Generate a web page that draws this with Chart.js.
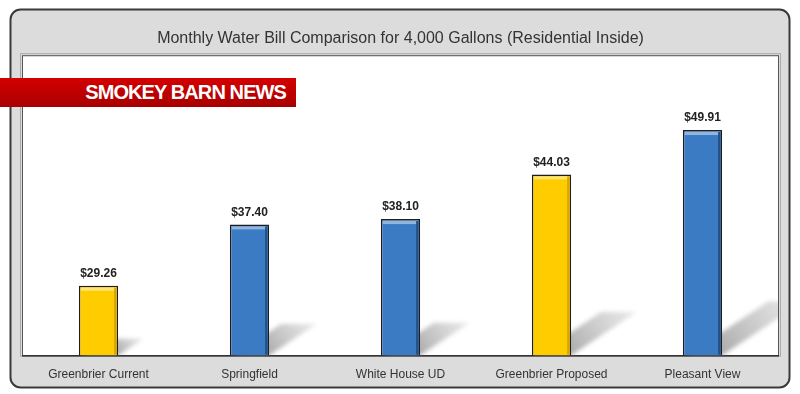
<!DOCTYPE html>
<html>
<head>
<meta charset="utf-8">
<script src="https://cdn.jsdelivr.net/npm/chart.js@4.4.0/dist/chart.umd.min.js"></script>
<style>
  html, body { margin: 0; padding: 0; background: #fff; }
  #wrap { position: relative; width: 800px; height: 394px; }
  #banner {
    position: absolute; left: 0; top: 78px; width: 296px; height: 29px;
    background: linear-gradient(#d40000, #a80000);
    color: #fff; font: bold 20px "Liberation Sans", Arial, sans-serif;
    letter-spacing: -0.9px; line-height: 29px; text-align: right;
    box-sizing: border-box; padding-right: 10px;
  }
</style>
</head>
<body>
<div id="wrap">
  <canvas id="myChart" width="800" height="394"></canvas>
  <div id="banner">SMOKEY BARN NEWS</div>
</div>
<script>
const categories = ['Greenbrier Current', 'Springfield', 'White House UD', 'Greenbrier Proposed', 'Pleasant View'];
const bills = [29.26, 37.40, 38.10, 44.03, 49.91];
const yMin = 20;
const yMax = 59.7;
const chartTitle = 'Monthly Water Bill Comparison for 4,000 Gallons (Residential Inside)';

// greenbrier bars are yellow, the others blue
const barColors = categories.map(c => c.startsWith('Greenbrier') ? '#ffcc00' : '#3a7bc4');
const edgeColors = categories.map(c => c.startsWith('Greenbrier') ? '#d9a400' : '#21518a');

const ctx = document.getElementById('myChart');

// frame + white panel behind the plot
const framePlugin = {
    id: 'frame',
    beforeDraw(chart) {
        const c = chart.ctx;
        const a = chart.chartArea;
        c.save();
        c.fillStyle = '#fff';
        c.fillRect(0, 0, chart.width, chart.height);
        c.beginPath();
        c.roundRect(10.5, 9.5, 779, 378, 10);
        c.fillStyle = '#dcdcdc';
        c.fill();
        c.lineWidth = 2;
        c.strokeStyle = '#3a3a3a';
        c.stroke();
        c.fillStyle = '#fff';
        c.fillRect(a.left, a.top, a.right - a.left, a.bottom - a.top);
        c.lineWidth = 1;
        c.strokeStyle = '#555';
        c.strokeRect(a.left - 0.5, a.top - 0.5, a.right - a.left + 1, a.bottom - a.top + 1);
        c.strokeStyle = '#aaa';
        c.strokeRect(a.left - 2.5, a.top - 2.5, a.right - a.left + 5, a.bottom - a.top + 3);
        c.restore();
    },
    beforeDatasetsDraw(chart) {
        // soft cast shadows behind each bar
        const c = chart.ctx;
        const a = chart.chartArea;
        const bars = chart.getDatasetMeta(0).data;
        c.save();
        c.beginPath();
        c.rect(a.left, a.top, a.right - a.left, a.bottom - a.top);
        c.clip();
        c.filter = 'blur(2px)';
        bars.forEach(bar => {
            const bottom = a.bottom;
            const h = bottom - bar.y;
            const dx = h * 0.36, dy = h * 0.24;
            const left = bar.x - bar.width / 2, right = bar.x + bar.width / 2;
            const g = c.createLinearGradient(right, bottom, right + dx, bottom - dy);
            g.addColorStop(0, 'rgba(150,150,150,0.8)');
            g.addColorStop(1, 'rgba(200,200,200,0.4)');
            c.fillStyle = g;
            c.beginPath();
            c.moveTo(left + 4, bottom);
            c.lineTo(right, bottom);
            c.lineTo(right + dx, bottom - dy);
            c.lineTo(left + dx + 4, bottom - dy);
            c.closePath();
            c.fill();
        });
        c.restore();
    },
    afterDatasetsDraw(chart) {
        const c = chart.ctx;
        const a = chart.chartArea;
        const bars = chart.getDatasetMeta(0).data;
        c.save();
        bars.forEach((bar, i) => {
            const left = bar.x - bar.width / 2, right = bar.x + bar.width / 2;
            // bevel: light top strip, darker right strip
            c.fillStyle = 'rgba(255,255,255,0.45)';
            c.fillRect(left + 2, bar.y + 2, bar.width - 4, 3);
            c.fillStyle = edgeColors[i];
            c.fillRect(right - 4, bar.y + 2, 2.5, a.bottom - bar.y - 3);
            c.fillStyle = '#222';
            c.font = 'bold 12px "Liberation Sans", Arial, sans-serif';
            c.textAlign = 'center';
            c.textBaseline = 'bottom';
            c.fillText('$' + bills[i].toFixed(2), bar.x, bar.y - 6);
        });
        c.restore();
    }
};

new Chart(ctx, {
    type: 'bar',
    data: {
        labels: categories,
        datasets: [{
            data: bills,
            base: yMin,
            backgroundColor: barColors,
            borderColor: '#1e1e1e',
            borderWidth: 1.5,
            borderSkipped: 'bottom',
            barPercentage: 0.52,
            categoryPercentage: 0.5
        }]
    },
    options: {
        responsive: false,
        animation: false,
        layout: {
            padding: { left: 23, right: 22, top: 0, bottom: 0 }
        },
        plugins: {
            legend: { display: false },
            tooltip: { enabled: false },
            title: {
                display: true,
                text: chartTitle,
                color: '#333',
                font: { family: '"Liberation Sans", Arial, sans-serif', size: 16, weight: 'normal' },
                padding: { top: 29, bottom: 8 }
            }
        },
        scales: {
            x: {
                grid: { display: false, drawTicks: false },
                border: { color: '#333', width: 1.5 },
                ticks: {
                    color: '#333',
                    padding: 12,
                    font: { family: '"Liberation Sans", Arial, sans-serif', size: 12 }
                }
            },
            y: {
                display: false,
                min: yMin,
                max: yMax
            }
        }
    },
    plugins: [framePlugin]
});
</script>
</body>
</html>
